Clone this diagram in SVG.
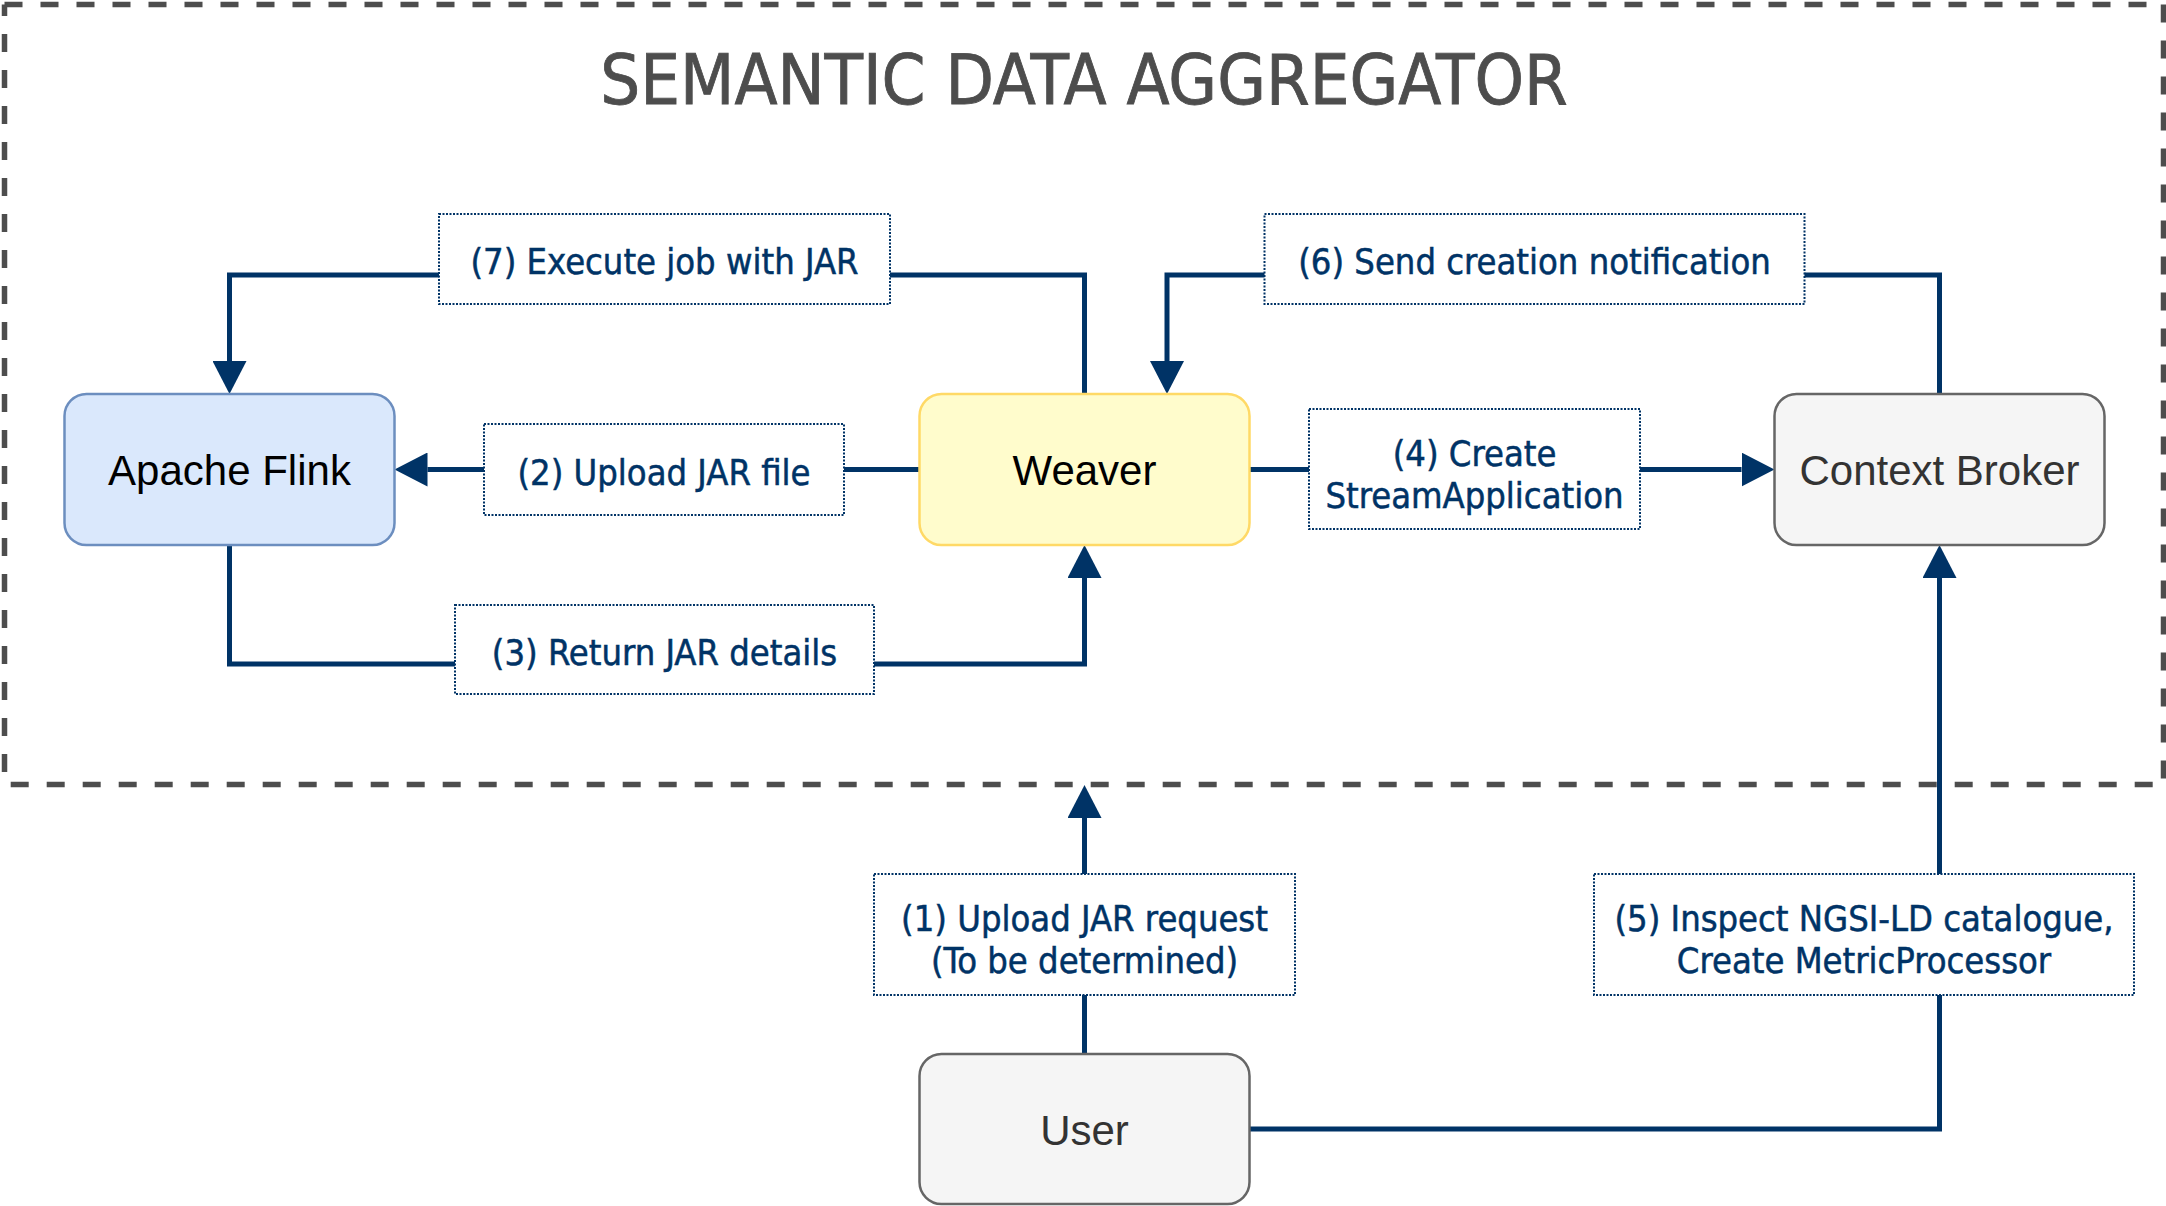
<svg xmlns="http://www.w3.org/2000/svg" width="2166" height="1206" viewBox="0 0 2166 1206">
  <style>
    .frame { fill: none; stroke: #4D4D4D; stroke-width: 5.5; stroke-dasharray: 18 18; }
    .title { font-family: "DejaVu Sans Condensed", "DejaVu Sans", sans-serif; font-size: 70px; fill: #4D4D4D; stroke: #4D4D4D; stroke-width: 0.8; text-anchor: middle; }
    .edge { fill: none; stroke: #003366; stroke-width: 5; }
    .lbox { fill: #FFFFFF; stroke: #003366; stroke-width: 2; stroke-dasharray: 2 1.5; }
    .ltxt { font-family: "DejaVu Sans Condensed", "DejaVu Sans", sans-serif; font-size: 36px; fill: #003366; stroke: #003366; stroke-width: 0.5; text-anchor: middle; }
    .ntxt { font-family: "Liberation Sans", Arial, sans-serif; font-size: 42px; text-anchor: middle; }
  </style>
  <defs>
    <marker id="arrow" viewBox="0 0 33 34" refX="0" refY="17" markerUnits="userSpaceOnUse" markerWidth="33" markerHeight="34" orient="auto">
      <path d="M0,0 L33,17 L0,34 Z" fill="#003366"/>
    </marker>
  </defs>
  <rect x="0" y="0" width="2166" height="1206" fill="#FFFFFF"/>

  <g id="container">
    <path class="frame" d="M4.5,4.5 H2163.5"/>
    <path class="frame" d="M4.5,4.5 V784.5" stroke-dashoffset="6.5"/>
    <path class="frame" d="M2163.5,4.5 V784.5"/>
    <path class="frame" d="M4.5,784.5 H2163.5" stroke-dashoffset="29.8"/>
    <text class="title" x="1084" y="104">SEMANTIC DATA AGGREGATOR</text>
  </g>

  <g id="connectors">
    <path id="e7" class="edge" d="M1084.5,394 V275 H229.5 V361" marker-end="url(#arrow)"/>
    <path id="e2" class="edge" d="M919.5,469.5 H427.5" marker-end="url(#arrow)"/>
    <path id="e3" class="edge" d="M229.5,545 V664 H1084.5 V578" marker-end="url(#arrow)"/>
    <path id="e4" class="edge" d="M1249.5,469.5 H1741.5" marker-end="url(#arrow)"/>
    <path id="e6" class="edge" d="M1939.5,394 V275 H1167 V361" marker-end="url(#arrow)"/>
    <path id="e1" class="edge" d="M1084.5,1054 V818" marker-end="url(#arrow)"/>
    <path id="e5" class="edge" d="M1249.5,1129 H1939.5 V578" marker-end="url(#arrow)"/>

    <g id="label7">
      <rect class="lbox" x="439" y="214" width="451" height="90"/>
      <text class="ltxt" x="664.5" y="274">(7) Execute job with JAR</text>
    </g>
    <g id="label2">
      <rect class="lbox" x="484" y="424" width="360" height="91"/>
      <text class="ltxt" x="664" y="484.5">(2) Upload JAR file</text>
    </g>
    <g id="label3">
      <rect class="lbox" x="455" y="605" width="419" height="89"/>
      <text class="ltxt" x="664.5" y="664.5">(3) Return JAR details</text>
    </g>
    <g id="label6">
      <rect class="lbox" x="1264.5" y="214" width="540" height="90"/>
      <text class="ltxt" x="1534.5" y="274">(6) Send creation notification</text>
    </g>
    <g id="label4">
      <rect class="lbox" x="1309" y="409" width="331" height="120"/>
      <text class="ltxt" x="1474.5" y="465.5">(4) Create</text>
      <text class="ltxt" x="1474.5" y="507.5">StreamApplication</text>
    </g>
    <g id="label1">
      <rect class="lbox" x="874" y="874" width="421" height="121"/>
      <text class="ltxt" x="1084.5" y="931">(1) Upload JAR request</text>
      <text class="ltxt" x="1084.5" y="972.5">(To be determined)</text>
    </g>
    <g id="label5">
      <rect class="lbox" x="1594" y="874" width="540" height="121"/>
      <text class="ltxt" x="1864" y="931">(5) Inspect NGSI-LD catalogue,</text>
      <text class="ltxt" x="1864" y="972.5">Create MetricProcessor</text>
    </g>
  </g>

  <g id="flink">
    <rect x="64.5" y="394" width="330" height="151" rx="22" fill="#DAE8FC" stroke="#6C8EBF" stroke-width="2.5"/>
    <text class="ntxt" x="229.5" y="485" fill="#000000">Apache Flink</text>
  </g>
  <g id="weaver">
    <rect x="919.5" y="394" width="330" height="151" rx="22" fill="#FFFCCC" stroke="#FFD966" stroke-width="2.5"/>
    <text class="ntxt" x="1084.5" y="485" fill="#000000">Weaver</text>
  </g>
  <g id="contextbroker">
    <rect x="1774.5" y="394" width="330" height="151" rx="22" fill="#F5F5F5" stroke="#666666" stroke-width="2.5"/>
    <text class="ntxt" x="1939.5" y="485" fill="#333333">Context Broker</text>
  </g>
  <g id="user">
    <rect x="919.5" y="1054" width="330" height="150" rx="22" fill="#F5F5F5" stroke="#666666" stroke-width="2.5"/>
    <text class="ntxt" x="1084.5" y="1144.5" fill="#333333">User</text>
  </g>
</svg>
